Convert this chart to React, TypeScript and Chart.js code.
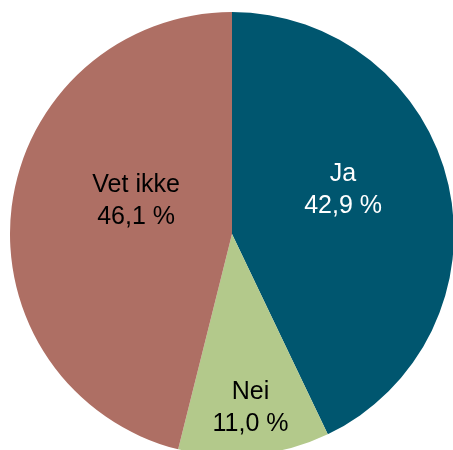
import React, { useEffect, useRef } from "react";
import { Chart, registerables } from "chart.js";

Chart.register(...registerables);

const categories = ["Ja", "Nei", "Vet ikke"];
const values = [42.9, 11.0, 46.1];
const valueLabels = ["42,9 %", "11,0 %", "46,1 %"];

const sliceColors = ["#00566F", "#B3C98B", "#AE6F64"];
const labelColors = ["#FFFFFF", "#000000", "#000000"];
// label placement: fraction of radius and angular shift (degrees) from slice middle
const labelRadiusFrac = [0.538, 0.788, 0.457];
const labelAngleShift = [-8.8, -0.3, 12];

const labelPlugin = {
  id: "sliceLabels",
  afterDatasetsDraw(chart: any) {
    const ctx = chart.ctx;
    const meta = chart.getDatasetMeta(0);
    ctx.save();
    ctx.font = "25px 'Liberation Sans', Arial, sans-serif";
    ctx.textAlign = "center";
    ctx.textBaseline = "middle";
    meta.data.forEach((arc: any, i: number) => {
      const p = arc.getProps(["x", "y", "startAngle", "endAngle", "outerRadius"], true);
      const mid = (p.startAngle + p.endAngle) / 2 + (labelAngleShift[i] * Math.PI) / 180;
      const r = p.outerRadius * labelRadiusFrac[i];
      const cx = p.x + Math.cos(mid) * r;
      const cy = p.y + Math.sin(mid) * r;
      ctx.fillStyle = labelColors[i];
      ctx.fillText(categories[i], cx, cy - 16);
      ctx.fillText(valueLabels[i], cx, cy + 16);
    });
    ctx.restore();
  },
};

export default function App() {
  const ref = useRef<HTMLCanvasElement | null>(null);
  useEffect(() => {
    if (!ref.current) return;
    const chart = new Chart(ref.current, {
      type: "pie",
      data: {
        labels: categories,
        datasets: [
          {
            data: values,
            backgroundColor: sliceColors,
            borderWidth: 0,
          },
        ],
      },
      options: {
        responsive: false,
        animation: false,
        devicePixelRatio: 1,
        layout: { padding: 0 },
        plugins: {
          legend: { display: false },
          tooltip: { enabled: false },
        },
      },
      plugins: [labelPlugin],
    });
    return () => chart.destroy();
  }, []);
  return (
    <div
      style={{
        position: "fixed",
        left: 0,
        top: 0,
        width: 453,
        height: 450,
        overflow: "hidden",
        background: "#fff",
      }}
    >
      <canvas
        ref={ref}
        width={444}
        height={444}
        style={{ position: "absolute", left: 10, top: 12, width: 444, height: 444 }}
      />
    </div>
  );
}
